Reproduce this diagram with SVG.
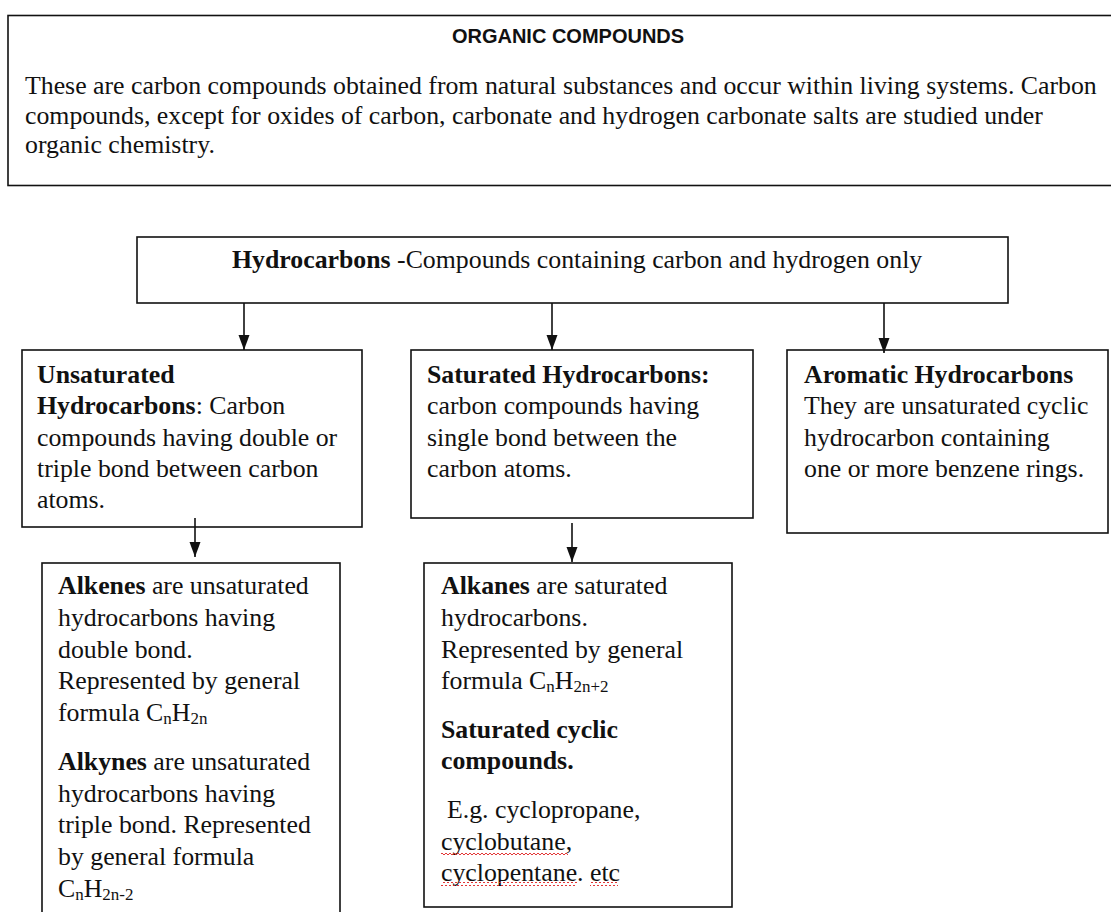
<svg xmlns="http://www.w3.org/2000/svg" width="1111" height="912" viewBox="0 0 1111 912">
<defs>
<style>
.box{fill:#fff;stroke:#111;stroke-width:1.6}
.t{font-family:"Liberation Serif","Times New Roman",serif;font-size:25.8px;fill:#111}
.b{font-weight:bold}
.ttl{font-family:"Liberation Sans",Arial,sans-serif;font-size:20px;font-weight:bold;fill:#111}
.sub{font-size:17px}
.con{stroke:#111;stroke-width:1.6;fill:none}
</style>
<marker id="ah" markerUnits="userSpaceOnUse" markerWidth="16" markerHeight="12" refX="15" refY="6" orient="auto" viewBox="0 0 16 12">
<path d="M0,0.5 L15,6 L0,11.5 Z" fill="#111"/>
</marker>
<pattern id="sq" width="4" height="4" patternUnits="userSpaceOnUse">
<path d="M0,3 L2,1 L4,3" stroke="#e02020" stroke-width="0.9" fill="none"/>
</pattern>
</defs>
<rect width="1111" height="912" fill="#fff"/>

<g id="organic-compounds">
<rect class="box" x="8" y="15.5" width="1115" height="170"/>
<text class="ttl" x="568" y="43" text-anchor="middle">ORGANIC COMPOUNDS</text>
<text class="t" x="25" y="94">These are carbon compounds obtained from natural substances and occur within living systems. Carbon</text>
<text class="t" x="25" y="123.5">compounds, except for oxides of carbon, carbonate and hydrogen carbonate salts are studied under</text>
<text class="t" x="25" y="153">organic chemistry.</text>
</g>

<g id="hydrocarbons">
<rect class="box" x="137" y="237" width="871" height="66"/>
<text class="t" x="232" y="268"><tspan class="b">Hydrocarbons</tspan> -Compounds containing carbon and hydrogen only</text>
</g>

<g id="unsaturated">
<rect class="box" x="22" y="350" width="340" height="177"/>
<text class="t" x="37" y="382.5"><tspan class="b">Unsaturated</tspan></text>
<text class="t" x="37" y="414"><tspan class="b">Hydrocarbons</tspan>: Carbon</text>
<text class="t" x="37" y="445.5">compounds having double or</text>
<text class="t" x="37" y="477">triple bond between carbon</text>
<text class="t" x="37" y="508">atoms.</text>
</g>

<g id="saturated">
<rect class="box" x="411" y="350" width="342" height="168"/>
<text class="t b" x="427" y="382.5">Saturated Hydrocarbons:</text>
<text class="t" x="427" y="414">carbon compounds having</text>
<text class="t" x="427" y="445.5">single bond between the</text>
<text class="t" x="427" y="477">carbon atoms.</text>
</g>

<g id="aromatic">
<rect class="box" x="787" y="350" width="321" height="183"/>
<text class="t b" x="804" y="382.5">Aromatic Hydrocarbons</text>
<text class="t" x="804" y="414">They are unsaturated cyclic</text>
<text class="t" x="804" y="445.5">hydrocarbon containing</text>
<text class="t" x="804" y="477">one or more benzene rings.</text>
</g>

<g id="alkenes-alkynes">
<rect class="box" x="42" y="563" width="298" height="360"/>
<text class="t" x="58" y="594"><tspan class="b">Alkenes</tspan> are unsaturated</text>
<text class="t" x="58" y="626">hydrocarbons having</text>
<text class="t" x="58" y="658">double bond.</text>
<text class="t" x="58" y="689">Represented by general</text>
<text class="t" x="58" y="721">formula C<tspan class="sub" dy="3">n</tspan><tspan dy="-3">H</tspan><tspan class="sub" dy="3">2n</tspan></text>
<text class="t" x="58" y="770"><tspan class="b">Alkynes</tspan> are unsaturated</text>
<text class="t" x="58" y="802">hydrocarbons having</text>
<text class="t" x="58" y="833">triple bond. Represented</text>
<text class="t" x="58" y="865">by general formula</text>
<text class="t" x="58" y="897">C<tspan class="sub" dy="3">n</tspan><tspan dy="-3">H</tspan><tspan class="sub" dy="3">2n-2</tspan></text>
</g>

<g id="alkanes">
<rect class="box" x="424" y="563" width="308" height="344"/>
<text class="t" x="441" y="594"><tspan class="b">Alkanes</tspan> are saturated</text>
<text class="t" x="441" y="626">hydrocarbons.</text>
<text class="t" x="441" y="658">Represented by general</text>
<text class="t" x="441" y="689">formula C<tspan class="sub" dy="3">n</tspan><tspan dy="-3">H</tspan><tspan class="sub" dy="3">2n+2</tspan></text>
<text class="t b" x="441" y="738">Saturated cyclic</text>
<text class="t b" x="441" y="769">compounds.</text>
<text class="t" x="447" y="818">E.g. cyclopropane,</text>
<text class="t" x="441" y="850">cyclobutane,</text>
<text class="t" x="441" y="881">cyclopentane. etc</text>
<rect x="441" y="851" width="127" height="4" fill="url(#sq)"/>
<rect x="441" y="882" width="136" height="4" fill="url(#sq)"/>
<rect x="590" y="882" width="28" height="4" fill="url(#sq)"/>
</g>

<g id="connectors">
<line class="con" x1="244" y1="303" x2="244" y2="350" marker-end="url(#ah)"/>
<line class="con" x1="552" y1="303" x2="552" y2="350" marker-end="url(#ah)"/>
<line class="con" x1="884" y1="303" x2="884" y2="353" marker-end="url(#ah)"/>
<line class="con" x1="195" y1="518" x2="195" y2="557" marker-end="url(#ah)"/>
<line class="con" x1="572" y1="523" x2="572" y2="562" marker-end="url(#ah)"/>
</g>
</svg>
